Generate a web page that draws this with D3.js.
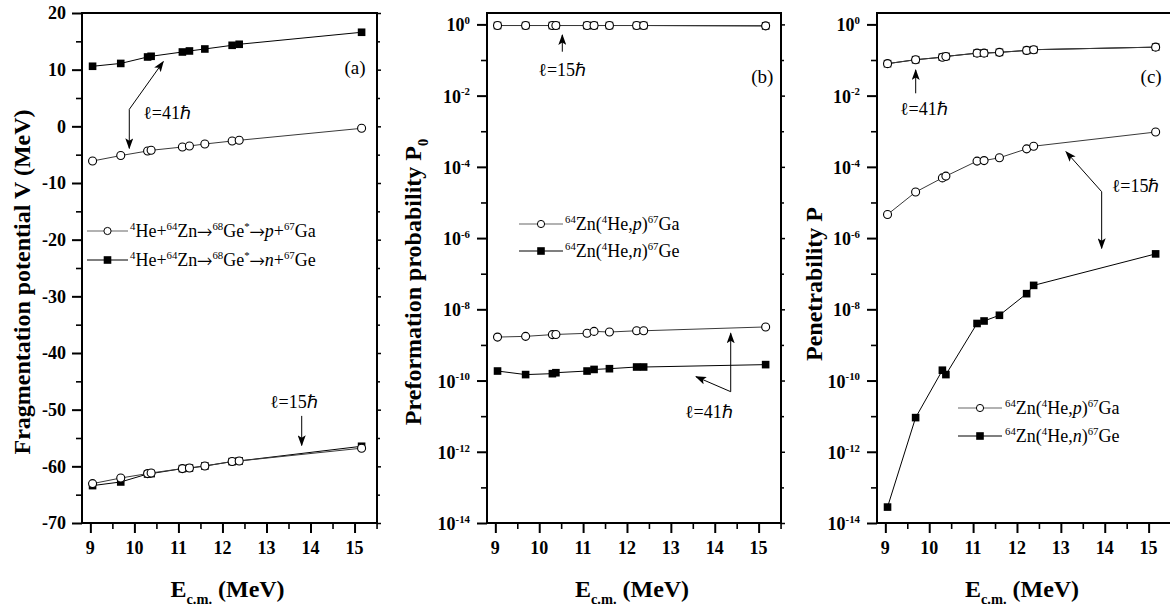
<!DOCTYPE html>
<html><head><meta charset="utf-8">
<script src="https://cdn.jsdelivr.net/npm/d3@7"></script>
<style>
body{margin:0;background:#fff}
svg{display:block}
</style>
</head><body><svg id="chart" width="1170" height="609" font-family="Liberation Serif, Tinos, serif"></svg>
<script>
// ---------- data ----------
const energies = [9.05, 9.69, 10.30, 10.38, 11.09, 11.25, 11.60, 12.22, 12.38, 15.16];

// (a) fragmentation potential V (MeV)
const V_p_l15 = [-63.05, -62.06, -61.28, -61.17, -60.40, -60.30, -59.94, -59.16, -59.05, -56.80];
const V_n_l15 = [-63.40, -62.76, -61.35, -61.28, -60.40, -60.30, -59.94, -59.16, -59.05, -56.46];
const V_p_l41 = [-6.12, -5.16, -4.35, -4.23, -3.65, -3.47, -3.12, -2.59, -2.46, -0.35];
const V_n_l41 = [10.60, 11.10, 12.24, 12.36, 13.12, 13.30, 13.65, 14.30, 14.48, 16.60];

// (b) preformation probability P0
const P0_p_l15 = [0.93, 0.93, 0.93, 0.93, 0.93, 0.93, 0.93, 0.93, 0.93, 0.91];
const P0_n_l15 = [0.93, 0.93, 0.93, 0.93, 0.93, 0.93, 0.93, 0.93, 0.93, 0.91];
const P0_p_l41 = [1.66e-9, 1.74e-9, 1.95e-9, 1.97e-9, 2.12e-9, 2.40e-9, 2.30e-9, 2.50e-9, 2.50e-9, 3.20e-9];
const P0_n_l41 = [1.85e-10, 1.47e-10, 1.56e-10, 1.66e-10, 1.85e-10, 2.05e-10, 2.15e-10, 2.40e-10, 2.40e-10, 2.80e-10];

// (c) penetrability P
const P_p_l41 = [0.079, 0.102, 0.120, 0.126, 0.156, 0.156, 0.164, 0.186, 0.195, 0.230];
const P_n_l41 = [0.079, 0.102, 0.120, 0.126, 0.156, 0.156, 0.164, 0.186, 0.195, 0.230];
const P_p_l15 = [4.6e-6, 1.96e-5, 4.9e-5, 5.5e-5, 1.45e-4, 1.5e-4, 1.8e-4, 3.2e-4, 3.8e-4, 9.5e-4];
const P_n_l15 = [2.8e-14, 9.1e-12, 1.95e-10, 1.47e-10, 4.0e-9, 4.7e-9, 6.8e-9, 2.75e-8, 4.7e-8, 3.6e-7];

// ticks / labels
const xMajor = [9, 10, 11, 12, 13, 14, 15];
const xMinor = [9.5, 10.5, 11.5, 12.5, 13.5, 14.5, 15.5];
const vMajor = [20, 10, 0, -10, -20, -30, -40, -50, -60, -70];
const vMinor = [15, 5, -5, -15, -25, -35, -45, -55, -65];
const logMajorExp = [0, -2, -4, -6, -8, -10, -12, -14];
const logMinorExp = [-1, -3, -5, -7, -9, -11, -13];

const xTitle = "E_{c.m.} (MeV)";
const yTitles = ["Fragmentation potential V (MeV)", "Preformation probability P_{0}", "Penetrability P"];
const panelTags = ["(a)", "(b)", "(c)"];
const legendA = ["^{4}He+^{64}Zn→^{68}Ge^{*}→_i{p}+^{67}Ga", "^{4}He+^{64}Zn→^{68}Ge^{*}→_i{n}+^{67}Ge"];
const legendBC = ["^{64}Zn(^{4}He,_i{p})^{67}Ga", "^{64}Zn(^{4}He,_i{n})^{67}Ge"];
const ell41 = "ℓ=41ℏ", ell15 = "ℓ=15ℏ";

// ---------- drawing ----------
const FONT = "Liberation Serif, Tinos, serif";
const svg = d3.select("#chart");
svg.append("defs").append("marker")
  .attr("id", "ah").attr("markerUnits", "userSpaceOnUse")
  .attr("markerWidth", 11).attr("markerHeight", 8).attr("refX", 10).attr("refY", 4)
  .attr("orient", "auto")
  .append("path").attr("d", "M0,0 L11,4 L0,8 L2.5,4 Z").attr("fill", "#000");

const TOP = 13, BOTTOM = 523;
const XDOM = [8.81, 15.51];

function rich(g, str, x, y, fs, opts = {}) {
  const t = g.append("text").attr("x", x).attr("y", y).attr("font-size", fs)
    .attr("font-family", FONT)
    .attr("text-anchor", opts.anchor || "start")
    .attr("font-weight", opts.weight || "normal")
    .attr("fill", "#000").style("white-space", "pre");
  if (opts.transform) t.attr("transform", opts.transform);
  const toks = str.match(/(\^\{[^}]*\}|_i\{[^}]*\}|_\{[^}]*\}|→|[^\^_→]+)/g);
  let shift = 0;
  toks.forEach(tok => {
    let txt, type;
    if (tok.startsWith("^{")) { type = "sup"; txt = tok.slice(2, -1); }
    else if (tok.startsWith("_i{")) { type = "it"; txt = tok.slice(3, -1); }
    else if (tok.startsWith("_{")) { type = "sub"; txt = tok.slice(2, -1); }
    else if (tok === "→") { type = "arr"; txt = tok; }
    else { type = "n"; txt = tok; }
    const target = type === "sup" ? -0.40 * fs : type === "sub" ? 0.30 * fs : 0;
    const ts = t.append("tspan").text(txt).attr("dy", target - shift);
    shift = target;
    if (type === "sup" || type === "sub") ts.attr("font-size", fs * 0.6);
    if (type === "it") ts.attr("font-style", "italic");
    if (type === "arr") ts.attr("font-family", "FreeSerif, DejaVu Serif, serif").attr("font-size", fs * 1.05);
  });
  return t;
}

function txt(g, s, x, y, fs, opts = {}) {
  return g.append("text").attr("x", x).attr("y", y).attr("font-size", fs)
    .attr("font-family", FONT)
    .attr("text-anchor", opts.anchor || "start")
    .attr("font-weight", opts.weight || "normal")
    .attr("dy", opts.dy || null)
    .attr("fill", "#000").text(s);
}

function panel(cfg) {
  const g = svg.append("g");
  const x = d3.scaleLinear().domain(XDOM).range([cfg.left, cfg.right]);
  const y = cfg.log
    ? d3.scaleLog().domain([1e-14, Math.pow(10, 0.32)]).range([BOTTOM, TOP])
    : d3.scaleLinear().domain([-70, 20]).range([BOTTOM, TOP]);

  // axes ticks
  const axG = g.append("g");
  const major = cfg.log ? logMajorExp.map(e => Math.pow(10, e)) : vMajor;
  const minor = cfg.log ? logMinorExp.map(e => Math.pow(10, e)) : vMinor;
  function ticks(axis, vals, size, w, tr) {
    const a = axG.append("g").attr("transform", tr)
      .call(axis.tickValues(vals).tickSize(size).tickFormat(""));
    a.select(".domain").remove();
    a.selectAll("line").attr("stroke", "#000").attr("stroke-width", w);
  }
  ticks(d3.axisBottom(x), xMajor, 10, 2, `translate(0,${BOTTOM})`);
  ticks(d3.axisBottom(x), xMinor, 6, 1.6, `translate(0,${BOTTOM})`);
  ticks(d3.axisLeft(y), major, 10, 2, `translate(${cfg.left},0)`);
  ticks(d3.axisLeft(y), minor, 6, 1.6, `translate(${cfg.left},0)`);
  ticks(d3.axisRight(y), major, 4, 1.5, `translate(${cfg.right},0)`);
  ticks(d3.axisRight(y), minor, 3, 1.5, `translate(${cfg.right},0)`);

  // frame
  g.append("rect").attr("x", cfg.left).attr("y", TOP)
    .attr("width", cfg.right - cfg.left).attr("height", BOTTOM - TOP)
    .attr("fill", "none").attr("stroke", "#000").attr("stroke-width", 2);

  // tick labels
  xMajor.forEach(v => txt(g, v, x(v), 554, 18, { anchor: "middle", weight: "bold" }));
  if (cfg.log) {
    logMajorExp.forEach(e => {
      rich(g, "10^{" + e + "}", cfg.left - 17, y(Math.pow(10, e)) + 7, 18, { anchor: "end", weight: "bold" });
    });
  } else {
    vMajor.forEach(v => txt(g, v, cfg.left - 16, y(v), 18, { anchor: "end", weight: "bold", dy: "0.35em" }));
  }

  // titles
  rich(g, xTitle, (cfg.left + cfg.right) / 2 - 2, 597, 24, { anchor: "middle", weight: "bold" });
  rich(g, cfg.yTitle, 0, 0, 24, { anchor: "middle", weight: "bold",
    transform: `translate(${cfg.titleX},${cfg.titleY}) rotate(-90)` });

  // panel tag
  txt(g, cfg.tag[2], x(cfg.tag[0]), y(cfg.tag[1]), 19, { anchor: "end" });

  // series: lines
  const line = d3.line().x(d => x(d[0])).y(d => y(d[1]));
  cfg.series.forEach(s => {
    const pts = energies.map((e, i) => [e, s.vals[i]]);
    g.append("path").attr("d", line(pts)).attr("fill", "none")
      .attr("stroke", s.mark === "circle" ? "#3a3a3a" : "#000").attr("stroke-width", 1);
  });
  // markers: squares first, then circles on top
  ["square", "circle"].forEach(m => {
    cfg.series.filter(s => s.mark === m).forEach(s => {
      const pts = energies.map((e, i) => [e, s.vals[i]]);
      if (m === "square") {
        g.selectAll(null).data(pts).enter().append("rect")
          .attr("x", d => x(d[0]) - 3.8).attr("y", d => y(d[1]) - 3.8)
          .attr("width", 7.6).attr("height", 7.6).attr("fill", "#000");
      } else {
        g.selectAll(null).data(pts).enter().append("circle")
          .attr("cx", d => x(d[0])).attr("cy", d => y(d[1])).attr("r", 4)
          .attr("fill", "#fff").attr("stroke", "#000").attr("stroke-width", 1.1);
      }
    });
  });

  // legend
  cfg.legend.labels.forEach((lab, i) => {
    const ly = TOP + cfg.legend.y[i];
    const x0 = cfg.left + cfg.legend.x0, x1 = cfg.left + cfg.legend.x1;
    const col = i === 0 ? "#666" : "#000";
    g.append("line").attr("x1", x0).attr("x2", x1).attr("y1", ly).attr("y2", ly)
      .attr("stroke", col).attr("stroke-width", 1.2);
    if (i === 0) {
      g.append("circle").attr("cx", (x0 + x1) / 2).attr("cy", ly).attr("r", 3.6)
        .attr("fill", "#fff").attr("stroke", "#000").attr("stroke-width", 1);
    } else {
      g.append("rect").attr("x", (x0 + x1) / 2 - 3.8).attr("y", ly - 3.8)
        .attr("width", 7.6).attr("height", 7.6).attr("fill", "#000");
    }
    rich(g, lab, cfg.left + cfg.legend.tx, ly + 6, 18);
  });

  // annotations
  cfg.notes.forEach(n => {
    txt(g, n.label, x(n.text[0]), y(n.text[1]), 18);
    n.arrows.forEach(a => {
      g.append("line").attr("x1", x(n.from[0])).attr("y1", y(n.from[1]))
        .attr("x2", x(a[0])).attr("y2", y(a[1]))
        .attr("stroke", "#000").attr("stroke-width", 1).attr("marker-end", "url(#ah)");
    });
  });
}

const L = v => Math.pow(10, v);

panel({
  left: 82, right: 377, log: false, yTitle: yTitles[0], titleX: 30, titleY: 282,
  tag: [15.25, 9.24, panelTags[0]],
  series: [
    { vals: V_n_l15, mark: "square" }, { vals: V_p_l15, mark: "circle" },
    { vals: V_n_l41, mark: "square" }, { vals: V_p_l41, mark: "circle" }
  ],
  legend: { labels: legendA, x0: 5, x1: 46, tx: 48, y: [218, 247] },
  notes: [
    { label: ell41, text: [10.20, 1.21], from: [9.884, 3.0], arrows: [[10.656, 11.41], [9.884, -3.88]] },
    { label: ell15, text: [13.08, -49.76], from: [13.80, -51.1], arrows: [[13.80, -56.3]] }
  ]
});

panel({
  left: 487, right: 781, log: true, yTitle: yTitles[1], titleX: 421, titleY: 282,
  tag: [15.335, L(-1.637), panelTags[1]],
  series: [
    { vals: P0_n_l15, mark: "square" }, { vals: P0_p_l15, mark: "circle" },
    { vals: P0_n_l41, mark: "square" }, { vals: P0_p_l41, mark: "circle" }
  ],
  legend: { labels: legendBC, x0: 32, x1: 76, tx: 78, y: [211, 238] },
  notes: [
    { label: ell15, text: [9.979, L(-1.449)], from: [10.526, L(-0.767)], arrows: [[10.526, L(-0.298)]] },
    { label: ell41, text: [13.322, L(-11.06)], from: [14.364, L(-10.313)], arrows: [[14.364, L(-8.673)], [13.573, L(-9.892)]] }
  ]
});

panel({
  left: 877, right: 1171, log: true, yTitle: yTitles[2], titleX: 822, titleY: 284,
  tag: [15.298, L(-1.654), panelTags[2]],
  series: [
    { vals: P_n_l41, mark: "square" }, { vals: P_p_l41, mark: "circle" },
    { vals: P_n_l15, mark: "square" }, { vals: P_p_l15, mark: "circle" }
  ],
  legend: { labels: legendBC, x0: 81, x1: 125, tx: 128, y: [395, 423] },
  notes: [
    { label: ell41, text: [9.334, L(-2.544)], from: [9.692, L(-1.935)], arrows: [[9.692, L(-1.28)]] },
    { label: ell15, text: [14.159, L(-4.697)], from: [13.930, L(-4.697)], arrows: [[13.117, L(-3.574)], [13.930, L(-6.287)]] }
  ]
});
</script>
</body></html>
